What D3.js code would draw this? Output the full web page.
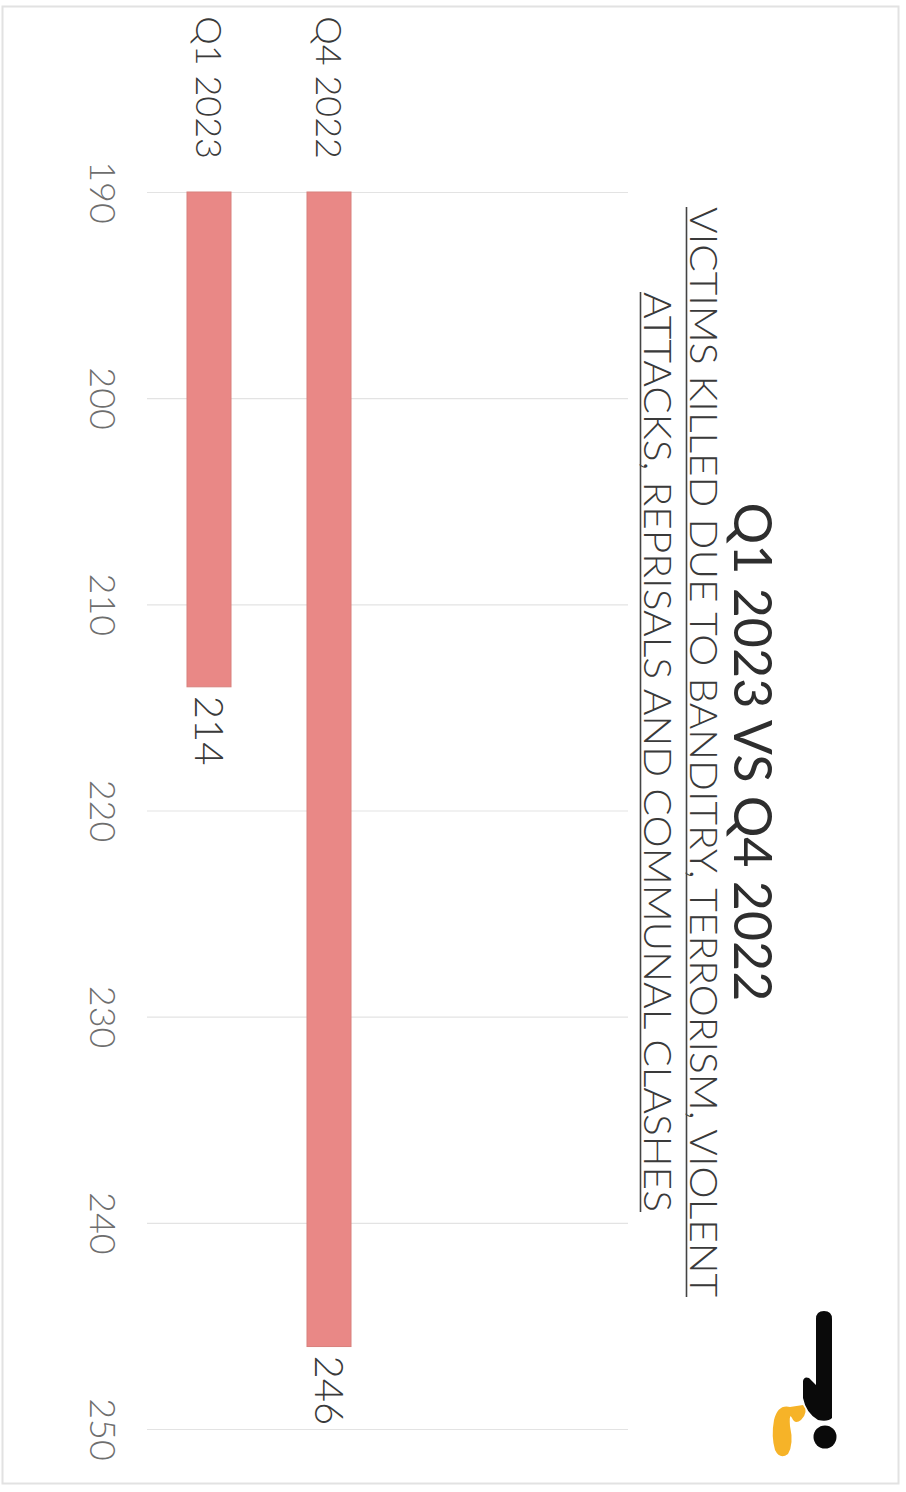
<!DOCTYPE html>
<html>
	<head>
		<meta charset="utf-8">
		<style type="text/css">
			body { margin: 0; background: #fff; }
			svg { display: block; font-family: Lato, "Open Sans", sans-serif; }
		</style>
		<title>Q1 2023 vs Q4 2022</title>
	</head>
	<body>
		<script src="https://cdn.jsdelivr.net/npm/d3@7/dist/d3.min.js"></script>
		<script>

var categories = ["Q4 2022", "Q1 2023"];
var values = [246, 214];
var tickValues = [190, 200, 210, 220, 230, 240, 250];
var title = "Q1 2023 VS Q4 2022";
var subtitle = ["VICTIMS KILLED DUE TO BANDITRY, TERRORISM, VIOLENT",
                "ATTACKS, REPRISALS AND COMMUNAL CLASHES"];

var data = categories.map(function(c, i) { return {cat: c, value: values[i]}; });

// page is 906 x 1492, the chart itself is drawn landscape and turned a quarter clockwise
var pageW = 906, pageH = 1492;

var svg = d3.select("body").append("svg")
	.attr("width", pageW)
	.attr("height", pageH);

// frame
svg.append("rect")
	.attr("x", 2.5).attr("y", 6.5)
	.attr("width", 896).attr("height", 1477)
	.attr("fill", "#fff")
	.attr("stroke", "#e2e2e2")
	.attr("stroke-width", 2);

var g = svg.append("g")
	.attr("transform", "translate(" + pageW + ",0) rotate(90)");

var x = d3.scaleLinear()
	.domain([190, 250])
	.range([192, 1429]);

var y = d3.scalePoint()
	.domain(categories)
	.range([577, 697]);

var barH = 44;
var plotTop = 278, plotBottom = 759;

//_axis + grid________________________________________________
var xAxis = d3.axisBottom(x)
	.tickValues(tickValues)
	.tickSize(-(plotBottom - plotTop))
	.tickPadding(31);

var ax = g.append("g")
	.attr("transform", "translate(0," + plotBottom + ")")
	.call(xAxis);

ax.select(".domain").remove();
ax.selectAll(".tick line")
	.attr("stroke", "#e3e3e3")
	.attr("stroke-width", 1.2);
ax.selectAll(".tick text")
	.attr("font-size", 36)
	.attr("font-weight", 300)
	.attr("fill", "#6e6e6e")
	.style("font-family", "Lato, sans-serif");

//_bars________________________________________________________
g.selectAll("rect.bar")
	.data(data)
	.enter().append("rect")
	.attr("class", "bar")
	.attr("x", x(190))
	.attr("y", function(d) { return y(d.cat) - barH / 2; })
	.attr("width", function(d) { return x(d.value) - x(190); })
	.attr("height", barH)
	.attr("fill", "#e98886")
	.attr("stroke", "#d8807c")
	.attr("stroke-width", 1);

// value labels
g.selectAll("text.val")
	.data(data)
	.enter().append("text")
	.attr("class", "val")
	.attr("x", function(d) { return x(d.value) + 9; })
	.attr("y", function(d) { return y(d.cat); })
	.attr("dy", "0.36em")
	.attr("font-size", 40)
	.attr("font-weight", 300)
	.attr("fill", "#3a3a3a")
	.text(function(d) { return d.value; });

// category labels
g.selectAll("text.cat")
	.data(data)
	.enter().append("text")
	.attr("class", "cat")
	.attr("x", 159)
	.attr("y", function(d) { return y(d.cat); })
	.attr("dy", "0.36em")
	.attr("text-anchor", "end")
	.attr("font-size", 36)
	.attr("font-weight", 300)
	.attr("fill", "#3a3a3a")
	.text(function(d) { return d.cat; });

//_titles______________________________________________________
var cx = 752;

g.append("text")
	.attr("x", cx)
	.attr("y", 172)
	.attr("text-anchor", "middle")
	.attr("font-size", 52)
	.attr("font-weight", 400)
	.attr("fill", "#2e2e2e")
	.text(title);

var subLines = [{t: subtitle[0], base: 216, len: 1090}, {t: subtitle[1], base: 262, len: 920}];

subLines.forEach(function(s) {
	g.append("text")
		.attr("x", cx)
		.attr("y", s.base)
		.attr("text-anchor", "middle")
		.attr("font-size", 38)
		.attr("font-weight", 300)
		.attr("fill", "#3a3a3a")
		.attr("textLength", s.len)
		.attr("lengthAdjust", "spacingAndGlyphs")
		.text(s.t);
	g.append("line")
		.attr("x1", cx - s.len / 2).attr("x2", cx + s.len / 2)
		.attr("y1", s.base + 3.5).attr("y2", s.base + 3.5)
		.attr("stroke", "#444")
		.attr("stroke-width", 1.6);
});

//_logo (drawn in page coords)_________________________________
var logo = svg.append("g");

logo.append("path")
	.attr("d", "M816,1319 Q816,1311 824,1311 Q832,1311 832,1319 L832,1418 Q828,1422 818,1420 " +
	           "Q806,1413 803,1398 L803,1381 Q804,1376 809,1378 L816,1385 Z")
	.attr("fill", "#0a0a0a");

logo.append("circle")
	.attr("cx", 825).attr("cy", 1437).attr("r", 11.5)
	.attr("fill", "#0a0a0a");

logo.append("path")
	.attr("d", "M803,1405 Q809,1412 801,1420 Q795,1425 792,1418 Q789,1412 790,1426 " +
	           "Q794,1444 788,1454 Q780,1460 775,1450 Q771,1436 774,1420 Q778,1404 790,1407 Z")
	.attr("fill", "#f6b328");

		</script>
	</body>
</html>
